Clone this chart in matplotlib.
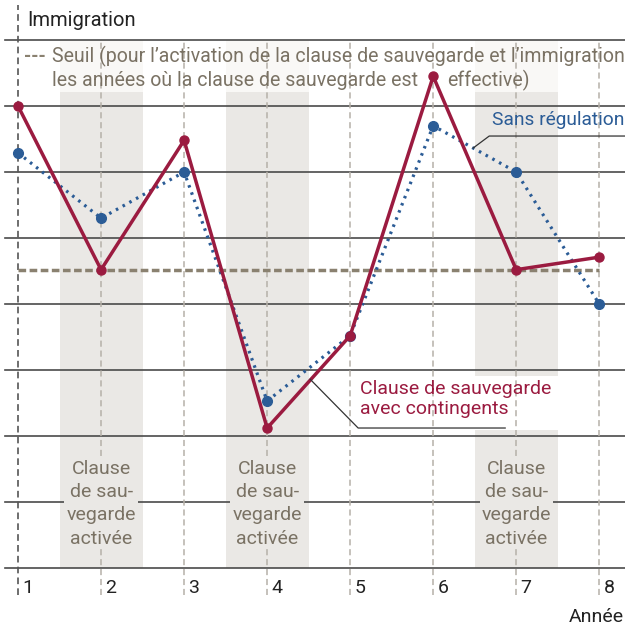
import numpy as np
import matplotlib
matplotlib.use("Agg")
import matplotlib.pyplot as plt

# data (grid units, 0 = bottom line)
years = [1, 2, 3, 4, 5, 6, 7, 8]
avec_contingents = [7.0, 4.52, 6.48, 2.12, 3.52, 7.45, 4.52, 4.71]
sans_regulation = [6.29, 5.30, 6.0, 2.53, 3.52, 6.70, 6.0, 4.0]
seuil = 4.52
clause_years = [2, 4, 7]
tick_labels = ["1", "2", "3", "4", "5", "6", "7", "8"]

RED = "#9b1b40"
BLUE = "#2b5c96"
TAUPE = "#8a8170"
TXT = "#7a7264"
BAND = "#eae8e5"
GRID = "#4a4a4a"

plt.rcParams["font.family"] = ["Roboto", "DejaVu Sans"]

fig = plt.figure(figsize=(6.25, 6.28), dpi=100)
ax = fig.add_axes([5 / 625, 60 / 628, 620 / 625, 528 / 628])
ax.set_xlim(0.843, 8.31)
ax.set_ylim(0, 8)
ax.axis("off")

# shaded years where the clause is active
for yr in clause_years:
    if yr == 7:
        ax.fill_between([yr - 0.5, yr + 0.5], 0, 2.09, color=BAND, lw=0, zorder=0)
        ax.fill_between([yr - 0.5, yr + 0.5], 2.91, 7.21, color=BAND, lw=0, zorder=0)
    else:
        ax.fill_between([yr - 0.5, yr + 0.5], 0, 7.21, color=BAND, lw=0, zorder=0)
    ax.fill_between([yr - 0.5, yr + 0.5], 7.21, 8, color="#f9f8f6", lw=0, zorder=0)

# horizontal grid
for g in range(0, 9):
    ax.plot([0.843, 8.31], [g, g], color=GRID, lw=1.2, zorder=1, clip_on=False)

# vertical dashed lines
ax.plot([1, 1], [-0.41, 8.53], color="#555555", lw=1.2, ls=(0, (4, 2.5)),
        zorder=1, clip_on=False)
for yr in years[1:]:
    ax.plot([yr, yr], [-0.41, 8], color="#b5b0a8", lw=1.1, ls=(0, (4, 2.5)),
            zorder=1, clip_on=False)

# threshold
ax.plot([years[0], years[-1]], [seuil, seuil], color=TAUPE, lw=2.5,
        ls=(0, (2.2, 1)), zorder=2)

# series
ax.plot(years, sans_regulation, color=BLUE, lw=2.3, ls=(0, (0.8, 1.6)),
        marker="o", ms=7, zorder=3)
ax.plot(years, avec_contingents, color=RED, lw=2.5, marker="o", ms=6.5, zorder=4)

# band labels
for yr in clause_years:
    ax.text(yr, 0.97, "Clause\nde sau-\nvegarde\nactivée", ha="center", va="center",
            fontsize=14, color=TXT, linespacing=1.36, zorder=5,
            bbox=dict(boxstyle="square,pad=0.1", fc=BAND, ec="none"))

# top legend
ax.text(1.07, 7.74, "---", fontsize=13.5, color=TAUPE, ha="left", va="center",
        fontweight="bold", zorder=5)
ax.text(1.41, 7.75, "Seuil (pour l\u2019activation de la clause de sauvegarde et l\u2019immigration",
        fontsize=14.05, color=TXT, ha="left", va="center", zorder=5)
ax.text(1.41, 7.38, "les années où la clause de sauvegarde est",
        fontsize=14.05, color=TXT, ha="left", va="center", zorder=5)
ax.text(6.17, 7.38, "effective)",
        fontsize=14.05, color=TXT, ha="left", va="center", zorder=5)

# series labels with leaders
ax.text(6.71, 6.79, "Sans régulation", fontsize=13.8, color=BLUE, ha="left",
        va="center", zorder=5)
ax.plot([6.482, 6.675, 8.31], [6.364, 6.545, 6.545], color="#333333", lw=0.9,
        zorder=5, clip_on=False)
ax.text(5.12, 2.56, "Clause de sauvegarde\navec contingents", fontsize=14, color=RED,
        ha="left", va="center", linespacing=1.15, zorder=5)
ax.plot([4.518, 5.096, 6.867], [2.86, 2.121, 2.121], color="#333333", lw=0.9, zorder=5)

# axis texts
for yr, lab in zip(years, tick_labels):
    ax.text(yr + 0.05, -0.3, lab, fontsize=14, color="#222222", ha="left",
            va="center", clip_on=False)
ax.text(8.3, -0.74, "Année", fontsize=14, color="#222222", ha="right", va="center",
        clip_on=False)
ax.text(1.11, 8.3, "Immigration", fontsize=14.5, color="#222222", ha="left",
        va="center", clip_on=False)

fig.savefig("out.png", dpi=100)
